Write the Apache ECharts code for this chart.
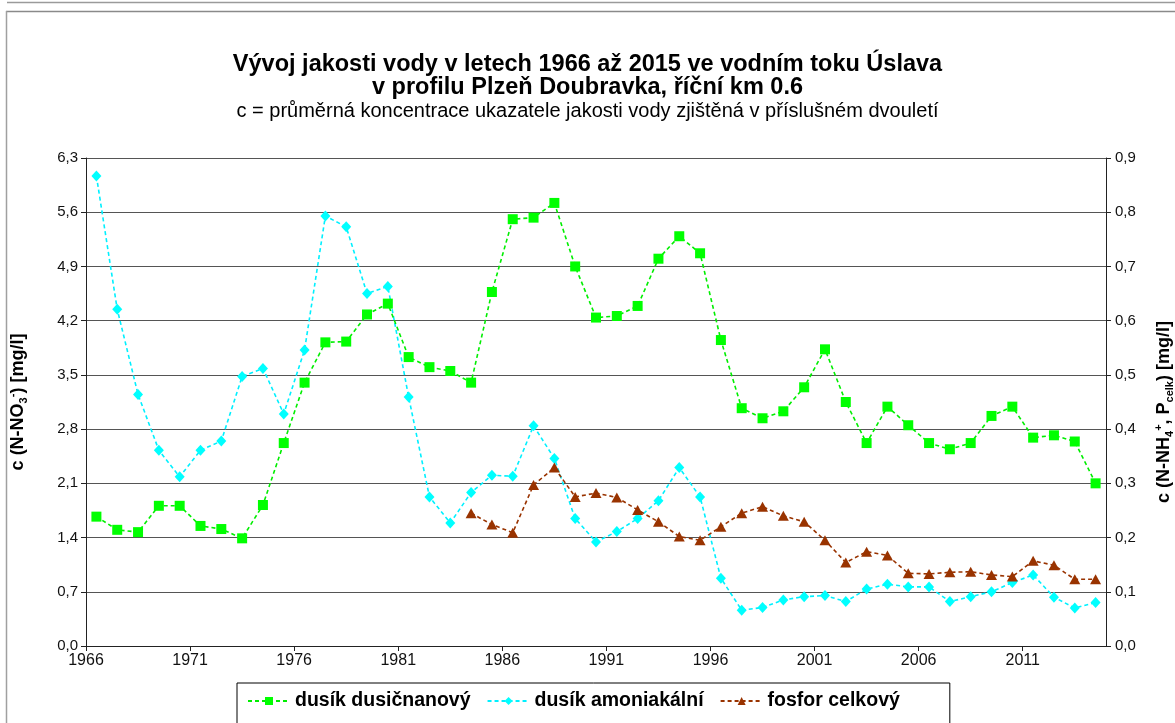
<!DOCTYPE html>
<html>
<head>
<meta charset="utf-8">
<style>
  html, body { margin: 0; padding: 0; background: #fff; }
  #chart { width: 1175px; height: 723px; }
</style>
<script src="https://cdn.jsdelivr.net/npm/echarts@6/dist/echarts.min.js"></script>
</head>
<body>
<div id="chart"></div>
<script>
// Two-year running averages, one point per starting year (1966/67 ... 2014/15)
const years = [
  1966, 1967, 1968, 1969, 1970, 1971, 1972, 1973, 1974, 1975,
  1976, 1977, 1978, 1979, 1980, 1981, 1982, 1983, 1984, 1985,
  1986, 1987, 1988, 1989, 1990, 1991, 1992, 1993, 1994, 1995,
  1996, 1997, 1998, 1999, 2000, 2001, 2002, 2003, 2004, 2005,
  2006, 2007, 2008, 2009, 2010, 2011, 2012, 2013, 2014
];

// N-NO3 [mg/l], left axis
const nitrate = [
  1.67, 1.50, 1.47, 1.81, 1.81, 1.55, 1.51, 1.39, 1.82, 2.62,
  3.40, 3.92, 3.93, 4.28, 4.42, 3.73, 3.60, 3.55, 3.40, 4.57,
  5.51, 5.53, 5.72, 4.90, 4.24, 4.26, 4.39, 5.00, 5.29, 5.07,
  3.95, 3.07, 2.94, 3.03, 3.34, 3.83, 3.15, 2.62, 3.09, 2.85,
  2.62, 2.54, 2.62, 2.97, 3.09, 2.69, 2.72, 2.64, 2.10
];

// N-NH4 [mg/l], right axis
const ammonium = [
  0.867, 0.621, 0.464, 0.361, 0.312, 0.361, 0.378, 0.497, 0.512, 0.428,
  0.546, 0.793, 0.773, 0.650, 0.663, 0.459, 0.275, 0.227, 0.283, 0.315,
  0.313, 0.406, 0.346, 0.235, 0.192, 0.211, 0.235, 0.268, 0.329, 0.275,
  0.125, 0.066, 0.071, 0.085, 0.091, 0.093, 0.082, 0.105, 0.114, 0.109,
  0.109, 0.082, 0.091, 0.100, 0.117, 0.131, 0.090, 0.070, 0.080
];

// P total [mg/l], right axis (measured from 1984 on)
const phosphorus = [
  null, null, null, null, null, null, null, null, null, null,
  null, null, null, null, null, null, null, null, 0.245, 0.224,
  0.209, 0.297, 0.329, 0.275, 0.282, 0.274, 0.251, 0.229, 0.202, 0.195,
  0.220, 0.245, 0.257, 0.240, 0.229, 0.195, 0.154, 0.174, 0.167, 0.134,
  0.133, 0.136, 0.137, 0.131, 0.128, 0.157, 0.149, 0.123, 0.123
];

const seriesNames = ['dusík dusičnanový', 'dusík amoniakální', 'fosfor celkový'];

const leftTicks = { min: 0, max: 6.3, interval: 0.7 };
const rightTicks = { min: 0, max: 0.9, interval: 0.1 };
const xTicks = { min: 1966, max: 2015, interval: 5 };

const FONT = '"Liberation Sans", Arial, sans-serif';

// each value sits in the middle of its year
const pairs = (vals) => vals.map((v, i) => [years[i] + 0.5, v]);
const comma = (v) => v.toFixed(1).replace('.', ',');

const chart = echarts.init(document.getElementById('chart'), null, { renderer: 'canvas' });

const dashed = (color) => ({ color: color, width: 1.6, type: [4, 3] });

const nameRich = {
  b: { fontFamily: FONT, fontSize: 18, fontWeight: 'bold', color: '#000', lineHeight: 22 },
  sub: { fontFamily: FONT, fontSize: 11, fontWeight: 'bold', color: '#000', lineHeight: 22, verticalAlign: 'bottom', padding: [8, 0, 0, 0] },
  sup: { fontFamily: FONT, fontSize: 11, fontWeight: 'bold', color: '#000', lineHeight: 22, verticalAlign: 'top', padding: [0, 0, 8, 0] }
};

chart.setOption({
  backgroundColor: '#ffffff',
  animation: false,
  textStyle: { fontFamily: FONT },
  title: {
    text: 'Vývoj jakosti vody v letech 1966 až 2015 ve vodním toku Úslava\nv profilu Plzeň Doubravka, říční km 0.6',
    subtext: 'c = průměrná koncentrace ukazatele jakosti vody zjištěná v příslušném dvouletí',
    left: 'center',
    top: 48,
    itemGap: 0,
    textStyle: { fontFamily: FONT, fontSize: 23.5, fontWeight: 'bold', color: '#000', lineHeight: 23 },
    subtextStyle: { fontFamily: FONT, fontSize: 20, color: '#000', lineHeight: 22 }
  },
  grid: { left: 86, right: 69, top: 158, bottom: 77, containLabel: false, outerBoundsMode: 'none' },
  legend: {
    left: 237,
    top: 683,
    itemWidth: 42,
    itemHeight: 10,
    itemGap: 16,
    padding: [8, 50, 14, 10],
    borderColor: '#000',
    borderWidth: 1,
    backgroundColor: '#fff',
    textStyle: { fontFamily: FONT, fontSize: 19.5, fontWeight: 'bold', color: '#000' },
    data: seriesNames
  },
  xAxis: {
    type: 'value',
    min: xTicks.min,
    max: xTicks.max,
    interval: xTicks.interval,
    axisLine: { lineStyle: { color: '#222', width: 1 } },
    axisTick: { show: true, length: 5, lineStyle: { color: '#222' } },
    axisLabel: {
      fontFamily: FONT, fontSize: 16, color: '#111', margin: 7,
      showMaxLabel: false,
      formatter: (v) => String(v)
    },
    splitLine: { show: false }
  },
  yAxis: [
    {
      type: 'value',
      position: 'left',
      min: leftTicks.min,
      max: leftTicks.max,
      interval: leftTicks.interval,
      axisLine: { show: true, lineStyle: { color: '#222', width: 1 } },
      axisTick: { show: true, length: 5, lineStyle: { color: '#222' } },
      axisLabel: { fontFamily: FONT, fontSize: 15, color: '#111', margin: 8, formatter: comma },
      splitLine: { show: true, lineStyle: { color: '#555', width: 1 } },
      name: '{b|c (N-NO}{sub|3}{sup|-}{b|) [mg/l]}',
      nameLocation: 'middle',
      nameRotate: 90,
      nameGap: 57,
      nameTextStyle: { rich: nameRich }
    },
    {
      type: 'value',
      position: 'right',
      min: rightTicks.min,
      max: rightTicks.max,
      interval: rightTicks.interval,
      axisLine: { show: true, lineStyle: { color: '#222', width: 1 } },
      axisTick: { show: true, length: 5, lineStyle: { color: '#222' } },
      axisLabel: { fontFamily: FONT, fontSize: 15, color: '#111', margin: 9, formatter: comma },
      splitLine: { show: false },
      name: '{b|c (N-NH}{sub|4}{sup|+}{b|, P}{sub|celk}{b|) [mg/l]}',
      nameLocation: 'middle',
      nameRotate: 90,
      nameGap: 47,
      nameTextStyle: { rich: nameRich, padding: [0, 20, 0, 0] }
    }
  ],
  series: [
    {
      name: seriesNames[0],
      type: 'line',
      yAxisIndex: 0,
      data: pairs(nitrate),
      symbol: 'rect',
      symbolSize: 10,
      itemStyle: { color: '#00ff00' },
      lineStyle: dashed('#00ee00'),
      z: 3
    },
    {
      name: seriesNames[1],
      type: 'line',
      yAxisIndex: 1,
      data: pairs(ammonium),
      symbol: 'diamond',
      symbolSize: [10, 11],
      itemStyle: { color: '#00ffff' },
      lineStyle: dashed('#00f0ff'),
      z: 2
    },
    {
      name: seriesNames[2],
      type: 'line',
      yAxisIndex: 1,
      data: pairs(phosphorus),
      connectNulls: false,
      symbol: 'triangle',
      symbolSize: [11, 10],
      itemStyle: { color: '#993300' },
      lineStyle: dashed('#993300'),
      z: 4
    }
  ],
  graphic: [
    { type: 'line', shape: { x1: 7, y1: 2.5, x2: 1175, y2: 2.5 }, style: { stroke: '#9a9a9a', lineWidth: 1.5 }, silent: true },
    { type: 'line', shape: { x1: 6, y1: 11.5, x2: 1175, y2: 11.5 }, style: { stroke: '#8a8a8a', lineWidth: 1.5 }, silent: true },
    { type: 'line', shape: { x1: 6.5, y1: 11, x2: 6.5, y2: 723 }, style: { stroke: '#a0a0a0', lineWidth: 1.5 }, silent: true }
  ]
});
</script>
</body>
</html>
